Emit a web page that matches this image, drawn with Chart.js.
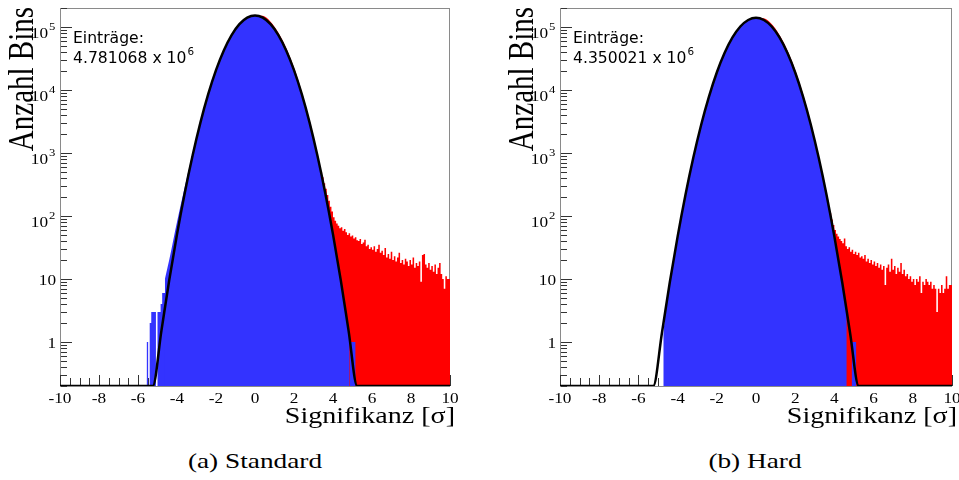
<!DOCTYPE html>
<html>
<head>
<meta charset="utf-8">
<script src="https://cdn.jsdelivr.net/npm/chart.js@4"></script>
<style>
  body { margin:0; background:#fff; width:959px; height:480px; position:relative; overflow:hidden; }
  canvas { position:absolute; top:0; }
  #cL { left:0; }
  #cR { left:500px; }
  .cap { position:absolute; top:451px; line-height:21px; font-family:"Liberation Serif", serif; font-size:21px;
         white-space:nowrap; transform:translateX(-50%) scaleX(1.3); transform-origin:50% 0; }
</style>
</head>
<body>
<canvas id="cL" width="480" height="440"></canvas>
<canvas id="cR" width="459" height="440"></canvas>
<div class="cap" style="left:255px">(a) Standard</div>
<div class="cap" style="left:755px">(b) Hard</div>
<script>
// Achsen
const xMin = -10, xMax = 10, yMin = 0.2, yMax = 2e5;
const binWidth = 0.08;
const xTickLabels = ['-10', '-8', '-6', '-4', '-2', '0', '2', '4', '6', '8', '10'];
const yTickValues = [1, 10, 100, 1000, 10000, 100000];
const yTickBase   = ['1', '10', '10', '10', '10', '10'];
const yTickExp    = ['', '', '2', '3', '4', '5'];

const entriesStandard = '4.781068';
const entriesHard = '4.350021';

// Gauss-Fit (schwarze Linie)
const fitX = [-10, -5.24, -4.8, -4.4, -4.0, -3.6, -3.2, -2.8, -2.4, -2.0, -1.6, -1.2, -0.8, -0.4, 0,
              0.4, 0.8, 1.2, 1.6, 2.0, 2.4, 2.8, 3.2, 3.6, 4.0, 4.4, 4.8, 5.24, 10];
const fitStandard = [0.2, 0.2, 1.5, 9.5, 51, 234, 910, 3030, 8570, 20650, 42400, 74300, 110800, 140900, 152600,
                     140900, 110800, 74300, 42400, 20650, 8570, 3030, 910, 234, 51, 9.5, 1.5, 0.2, 0.2];
const fitHard = [0.2, 0.2, 1.39, 8.8, 47, 215, 837, 2780, 7860, 18950, 38900, 68100, 101600, 129000, 140000,
                 129000, 101600, 68100, 38900, 18950, 7860, 2780, 837, 215, 47, 8.8, 1.39, 0.2, 0.2];

// blaues Histogramm (Rauschen), Kern
const blueXStandard = [-4.62, -4.4, -4.0, -3.6, -3.2, -2.8, -2.4, -2.0, -1.6, -1.2, -0.8, -0.4, 0,
                       0.4, 0.8, 1.2, 1.6, 2.0, 2.4, 2.8, 3.2, 3.6, 4.0, 4.4, 4.84];
const blueStandard = [10, 20, 80, 290, 1000, 3150, 8700, 20800, 42500, 74500, 111000, 141000, 152000,
                      141000, 111000, 74000, 42000, 20500, 8500, 3000, 900, 230, 50, 9.5, 1.5];
const blueXHard = [-4.73, -4.56, -4.4, -4.0, -3.6, -3.2, -2.8, -2.4, -2.0, -1.6, -1.2, -0.8, -0.4, 0,
                   0.4, 0.8, 1.2, 1.6, 2.0, 2.4, 2.8, 3.2, 3.6, 4.0, 4.4, 4.63];
const blueHard = [1.3, 4.6, 9, 45, 200, 800, 2750, 7800, 18900, 38800, 68000, 101500, 129000, 139500,
                  129000, 101500, 68000, 38800, 18900, 7850, 2770, 830, 212, 46, 8.6, 3.2];

// einzelne blaue Bins an den Rändern (0.2 = leerer Bin)
const blueLeftStartStandard = -5.56;
const blueLeftStandard = [1, 1, 0.2, 2, 3, 3, 3, 0.2, 3, 3, 4, 6];
const blueRightStartStandard = 4.84;
const blueRightStandard = [2, 1, 1, 1];
const blueRightStartHard = 4.88;
const blueRightHard = [1, 1, 1];

// rotes Histogramm (alle Einträge), glatter Teil
const redSmoothX = [0, 0.4, 0.8, 1.2, 1.6, 2.0, 2.4, 2.8, 3.2];
const redSmoothStandard = [152600, 150000, 121000, 81000, 46500, 22700, 9400, 3330, 1000];
const redSmoothHard = [140000, 137000, 111000, 74500, 42600, 20800, 8650, 3050, 900];

// roter Ausläufer, Bins ab 3.2
const redTailStart = 3.2;
const redTailStandard = [
  900, 760, 620, 500, 410, 330, 270, 215, 175, 140,
  118, 95, 84, 76, 70, 64, 66, 58, 62, 55,
  50, 53, 47, 49, 44, 46, 41, 40, 43, 36,
  38, 42, 33, 35, 30, 32, 29, 33, 27, 30,
  35, 26, 28, 24, 31, 22, 25, 21, 27, 20,
  23, 19, 22, 26, 18, 20, 17, 21, 19, 16,
  20, 17, 22, 15, 18, 16, 19, 9, 24, 25,
  17, 15, 18, 14, 16, 13, 17, 12, 15, 18,
  12, 10, 7, 11, 10];
const redTailHard = [
  790, 640, 510, 400, 310, 240, 185, 140, 110, 88,
  72, 60, 52, 47, 43, 40, 37, 44, 33, 30,
  32, 27, 29, 25, 27, 24, 26, 22, 23, 21,
  24, 19, 21, 18, 20, 17, 19, 16, 18, 15,
  17, 14, 16, 8, 15, 17, 13, 21, 14, 16,
  12, 15, 13, 18, 12, 14, 11, 12, 10, 11,
  9, 10, 8, 10, 9, 11, 6, 9, 8, 10,
  9, 8, 9, 7, 8, 7, 3, 7, 6, 8,
  6, 7, 11, 7, 8];

const BLUE = '#3333ff';
const RED = '#ff0000';

function pts(xs, ys) {
  return xs.map((v, i) => ({ x: v, y: ys[i] }));
}
function bins(start, vals) {
  const p = vals.map((v, i) => ({ x: start + i * binWidth, y: v }));
  p.push({ x: start + vals.length * binWidth, y: vals[vals.length - 1] });
  return p;
}

function stretchText(ctx, txt, x, y, sx, align) {
  ctx.save();
  ctx.translate(x, y);
  ctx.scale(sx, 1);
  ctx.textAlign = align;
  ctx.fillText(txt, 0, 0);
  ctx.restore();
}

// Rahmen, Ticks und Beschriftung im ROOT-Stil
const decor = {
  id: 'decor',
  beforeDatasetsDraw(chart) {
    const { ctx, chartArea: a, scales: { x, y } } = chart;
    ctx.save();
    ctx.strokeStyle = '#8a8a8a';
    ctx.lineWidth = 1;
    ctx.strokeRect(a.left + 0.5, a.top + 0.5, a.right - a.left - 1, a.bottom - a.top);
    ctx.strokeStyle = '#333';
    ctx.beginPath();
    for (let k = 0; k <= 40; k++) {
      const v = xMin + k * 0.5;
      const px = Math.round(x.getPixelForValue(v)) + 0.5;
      const len = k % 4 === 0 ? 11 : 8;
      ctx.moveTo(px, a.bottom);
      ctx.lineTo(px, a.bottom - len);
    }
    for (let e = -1; e <= 5; e++) {
      for (let m = 1; m <= 9; m++) {
        const v = m * Math.pow(10, e);
        if (v < yMin || v > yMax) continue;
        const py = Math.round(y.getPixelForValue(v)) + 0.5;
        const len = m === 1 ? 11 : 6;
        ctx.moveTo(a.left + 1, py);
        ctx.lineTo(a.left + 1 + len, py);
      }
    }
    ctx.stroke();
    ctx.restore();
  },
  afterDraw(chart) {
    const { ctx, chartArea: a, scales: { x, y } } = chart;
    const entries = chart.options.plugins.decor.entries;
    ctx.save();
    ctx.fillStyle = '#000';
    ctx.textBaseline = 'alphabetic';

    ctx.font = '15px "Liberation Serif"';
    xTickLabels.forEach(t => {
      stretchText(ctx, t, x.getPixelForValue(Number(t)), 403, 1.15, 'center');
    });

    yTickValues.forEach((v, i) => {
      const py = y.getPixelForValue(v);
      if (yTickExp[i]) {
        ctx.font = '15px "Liberation Serif"';
        stretchText(ctx, yTickBase[i], 48, py + 11, 1.15, 'right');
        ctx.font = '11px "Liberation Serif"';
        stretchText(ctx, yTickExp[i], 49, py + 3, 1.15, 'left');
      } else {
        ctx.font = '15px "Liberation Serif"';
        stretchText(ctx, yTickBase[i], 56, py + 6, 1.15, 'right');
      }
    });

    // Achsentitel
    ctx.font = '23px "Liberation Serif"';
    stretchText(ctx, 'Signifikanz [σ]', a.right + 5, 423, 1.22, 'right');

    ctx.save();
    ctx.translate(33, 7);
    ctx.scale(1.2, 1);
    ctx.rotate(-Math.PI / 2);
    ctx.font = '29px "Liberation Serif"';
    ctx.textAlign = 'right';
    ctx.fillText('Anzahl Bins', 0, 0);
    ctx.restore();

    // Einträge
    ctx.font = '15px "DejaVu Sans"';
    stretchText(ctx, 'Einträge:', 73, 43, 1.04, 'left');
    const line2 = entries + ' x 10';
    stretchText(ctx, line2, 73, 63, 1.04, 'left');
    const w = ctx.measureText(line2).width * 1.04;
    ctx.font = '10px "DejaVu Sans"';
    stretchText(ctx, '6', 73 + w + 1, 55, 1.04, 'left');
    ctx.restore();
  }
};

function makeChart(id, padRight, d) {
  const fillSet = (label, data, color, order, stepped) => ({
    label, data, backgroundColor: color, borderWidth: 0, fill: 'start', order,
    stepped: stepped ? 'after' : false,
    cubicInterpolationMode: stepped ? 'default' : 'monotone'
  });
  new Chart(document.getElementById(id), {
    type: 'line',
    data: {
      datasets: [
        { label: 'Fit', data: pts(fitX, d.fit), borderColor: '#000', borderWidth: 2.5, fill: false,
          cubicInterpolationMode: 'monotone', order: 0 },
        fillSet('Rauschen', pts(d.blueX, d.blue), BLUE, 1, false),
        fillSet('Rauschen links', d.blueLeft, BLUE, 1, true),
        fillSet('Rauschen rechts', d.blueRight, BLUE, 1, true),
        fillSet('Alle', pts(redSmoothX, d.redSmooth), RED, 2, false),
        fillSet('Alle Ausläufer', bins(redTailStart, d.redTail), RED, 2, true)
      ]
    },
    options: {
      responsive: false,
      animation: false,
      events: [],
      layout: { padding: { top: 8, right: padRight, left: 0, bottom: 0 } },
      elements: { point: { radius: 0 } },
      plugins: { legend: { display: false }, tooltip: { enabled: false }, decor: { entries: d.entries } },
      scales: {
        x: { type: 'linear', min: xMin, max: xMax, grid: { display: false }, border: { display: false },
             ticks: { display: false }, afterFit: s => { s.height = 54; } },
        y: { type: 'logarithmic', min: yMin, max: yMax, grid: { display: false }, border: { display: false },
             ticks: { display: false }, afterFit: s => { s.width = 60; } }
      }
    },
    plugins: [decor]
  });
}

makeChart('cL', 30, {
  fit: fitStandard, blueX: blueXStandard, blue: blueStandard,
  blueLeft: bins(blueLeftStartStandard, blueLeftStandard),
  blueRight: bins(blueRightStartStandard, blueRightStandard),
  redSmooth: redSmoothStandard, redTail: redTailStandard, entries: entriesStandard
});
makeChart('cR', 7, {
  fit: fitHard, blueX: blueXHard, blue: blueHard,
  blueLeft: [],
  blueRight: bins(blueRightStartHard, blueRightHard),
  redSmooth: redSmoothHard, redTail: redTailHard, entries: entriesHard
});
</script>
</body>
</html>
